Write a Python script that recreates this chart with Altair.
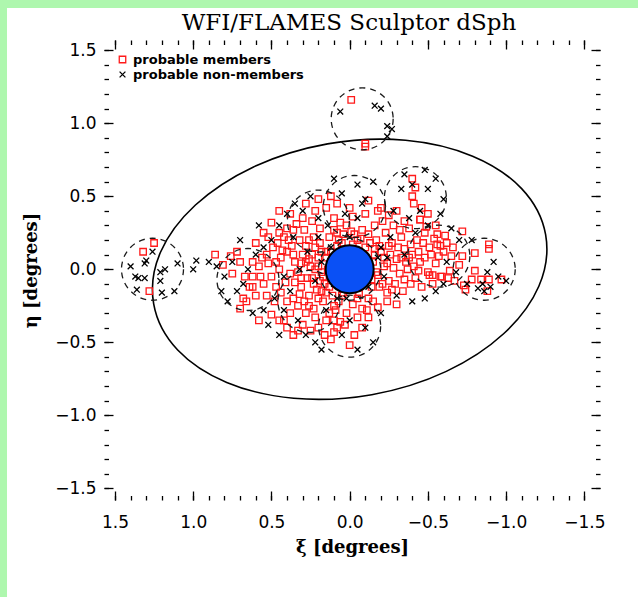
import altair as alt
import pandas as pd

# ---------------- data (degrees) ----------------
title_text = "WFI/FLAMES Sculptor dSph"
far_left_members = [(1.25, 0.18), (1.32, 0.12), (1.28, -0.15)]
top_field_members = [(-0.01, 1.16), (-0.10, 0.86), (-0.10, 0.84)]
core_west_members = [
    (0.12, 0.05), (0.15, 0.12), (0.18, -0.02), (0.20, 0.08), (0.22, 0.15), (0.25, 0.02),
    (0.27, -0.06), (0.30, 0.10), (0.32, 0.20), (0.35, 0.05), (0.38, -0.03), (0.40, 0.12),
    (0.42, 0.22), (0.45, 0.00), (0.16, -0.10), (0.21, -0.14), (0.26, -0.18), (0.31, -0.12),
    (0.36, -0.20), (0.41, -0.09), (0.13, 0.22), (0.19, 0.28), (0.24, 0.33), (0.29, 0.27),
    (0.34, 0.31), (0.11, -0.18), (0.17, -0.22), (0.23, -0.27), (0.28, -0.30), (0.33, -0.25),
    (0.14, 0.00), (0.24, 0.10), (0.28, 0.05), (0.33, -0.02), (0.37, 0.16), (0.19, 0.18),
    (0.44, 0.08), (0.47, -0.12), (0.49, 0.15), (0.52, 0.04),
]
core_east_members = [
    (-0.15, 0.05), (-0.18, -0.04), (-0.20, 0.12), (-0.22, 0.02), (-0.25, -0.08), (-0.27, 0.18),
    (-0.30, 0.07), (-0.32, -0.03), (-0.35, 0.14), (-0.37, 0.00), (-0.40, 0.10), (-0.42, -0.06),
    (-0.45, 0.05), (-0.47, 0.18), (-0.50, -0.02), (-0.17, 0.20), (-0.23, 0.25), (-0.28, 0.30),
    (-0.33, 0.22), (-0.38, 0.28), (-0.19, -0.12), (-0.24, -0.16), (-0.29, -0.10), (-0.34, -0.15),
    (-0.16, 0.14), (-0.26, 0.10), (-0.31, 0.15), (-0.36, 0.05), (-0.41, 0.02), (-0.43, 0.20),
    (-0.52, 0.10), (-0.55, 0.04), (-0.58, -0.05), (-0.60, 0.12), (-0.21, 0.33), (-0.14, -0.07),
    (-0.39, -0.10), (-0.46, -0.12), (-0.53, -0.10), (-0.56, 0.17),
]
inner_ring_members = [
    (0.15, 0.08), (0.17, -0.05), (0.13, -0.12), (0.08, 0.16), (-0.02, 0.17), (-0.10, 0.15),
    (-0.16, 0.10), (-0.17, -0.02), (-0.14, -0.12), (-0.06, -0.17), (0.04, -0.16), (0.12, -0.06),
    (0.22, 0.00), (0.23, -0.10), (-0.22, 0.08), (-0.21, -0.10), (0.26, 0.20), (-0.25, 0.16),
    (0.10, 0.27), (-0.12, 0.24), (0.09, -0.28), (-0.18, -0.26), (0.40, 0.28), (0.46, 0.18),
    (-0.48, 0.25), (-0.53, -0.04), (0.50, -0.05), (0.56, 0.08), (0.38, -0.30), (-0.30, -0.24),
]
dense_core_members = [
    (0.20, 0.02), (0.26, 0.07), (0.31, 0.04), (0.36, 0.10), (0.39, 0.20), (0.43, 0.13),
    (0.18, 0.12), (0.23, 0.22), (0.28, 0.16), (0.31, -0.06), (0.35, -0.09), (0.29, -0.22),
    (0.24, -0.06), (0.19, -0.08), (0.15, -0.16), (0.20, -0.20), (0.26, -0.25), (0.32, -0.17),
    (0.44, -0.16), (0.40, -0.22), (0.53, -0.18), (0.57, -0.05), (0.62, 0.05), (0.47, 0.05),
    (0.12, 0.12), (0.07, 0.20), (-0.01, 0.26), (0.04, 0.24), (-0.07, 0.21), (-0.13, 0.18),
    (-0.19, 0.16), (-0.24, 0.04), (-0.28, 0.01), (-0.27, -0.14), (-0.33, 0.08), (-0.38, 0.08),
    (-0.44, 0.12), (-0.39, 0.17), (-0.35, -0.07), (-0.44, -0.01), (-0.48, 0.08), (-0.51, 0.15),
    (-0.54, 0.21), (-0.62, 0.18), (-0.66, 0.15), (-0.63, -0.06), (-0.70, 0.03), (-0.57, 0.09),
    (-0.24, -0.22), (-0.12, -0.20), (-0.02, -0.24), (0.07, -0.22), (0.13, -0.30), (0.03, -0.38),
    (-0.05, -0.33), (0.10, -0.43), (-0.11, -0.28), (0.22, -0.33), (0.16, -0.45), (0.33, -0.42),
    (0.42, -0.35), (0.20, 0.48), (0.12, 0.50), (-0.02, 0.36), (-0.16, 0.30), (-0.25, 0.37),
    (-0.32, 0.27), (-0.18, 0.40), (0.30, 0.35), (0.36, 0.27), (0.45, 0.25), (0.52, 0.22),
    (0.62, -0.12), (0.75, -0.03), (0.70, 0.05), (0.68, -0.20), (0.58, -0.35), (0.10, -0.35),
]
north_members = [
    (0.05, 0.18), (-0.05, 0.20), (0.08, 0.25), (-0.08, 0.27), (0.02, 0.30), (0.10, 0.35),
    (-0.10, 0.38), (0.00, 0.42), (-0.03, 0.24), (0.06, 0.32), (0.15, 0.42), (0.08, 0.45),
    (-0.12, 0.47), (-0.20, 0.42), (0.22, 0.40), (0.28, 0.45),
]
south_members = [
    (0.05, -0.18), (-0.05, -0.20), (0.10, -0.25), (-0.08, -0.27), (0.02, -0.30), (0.15, -0.35),
    (-0.12, -0.33), (0.08, -0.40), (-0.03, -0.45), (0.12, -0.48), (0.00, -0.52), (0.20, -0.40),
    (0.18, -0.15), (-0.15, -0.22), (0.06, -0.36), (-0.08, -0.40),
]
northeast_members = [
    (-0.40, 0.62), (-0.42, 0.56), (-0.40, 0.50), (-0.41, 0.45), (-0.45, 0.34), (-0.35, 0.33),
    (-0.50, 0.38), (-0.55, 0.30), (-0.30, 0.40),
]
east_members = [
    (-0.46, 0.42), (-0.45, 0.34), (-0.49, 0.29), (-0.56, 0.24), (-0.61, 0.23), (-0.72, 0.26),
    (-0.58, 0.16), (-0.65, 0.09), (-0.72, 0.09), (-0.80, 0.11), (-0.89, 0.14), (-0.89, 0.17),
    (-0.80, -0.01), (-0.84, -0.07), (-0.78, -0.07), (-0.73, -0.11), (-0.89, -0.07), (-0.97, -0.07),
    (-0.88, -0.15), (-0.74, -0.14), (-0.67, -0.08), (-0.59, -0.05), (-0.51, -0.04), (-0.64, -0.01),
]
west_members = [
    (0.86, 0.10), (0.81, 0.03), (0.67, -0.05), (0.62, -0.05), (0.64, -0.12), (0.70, -0.27),
    (0.50, -0.31), (0.66, -0.22), (0.72, 0.12), (0.76, 0.09), (0.58, 0.02), (0.55, -0.10),
    (0.60, -0.18), (0.53, 0.10), (0.48, -0.22), (0.45, -0.35), (0.40, -0.40), (0.36, -0.45),
    (0.30, -0.38), (0.25, -0.42), (0.55, 0.25), (0.50, 0.32), (0.45, 0.40), (0.38, 0.38),
    (0.60, 0.18),
]

far_left_nonmembers = [
    (1.40, 0.02), (1.26, 0.12), (1.30, 0.06), (1.31, 0.04), (1.37, -0.05), (1.35, -0.06),
    (1.31, -0.06), (1.21, -0.08), (1.10, 0.04), (1.21, -0.02), (1.12, -0.15), (1.36, -0.14),
    (1.20, -0.16), (1.18, 0.00),
]
top_field_nonmembers = [(0.06, 1.08), (-0.16, 1.12), (-0.20, 1.10), (-0.24, 0.98), (-0.27, 0.96), (-0.24, 0.91)]
central_nonmembers = [
    (0.30, 0.40), (0.35, 0.45), (0.40, 0.38), (0.25, 0.50), (0.45, 0.30), (0.20, 0.35),
    (0.50, 0.20), (0.55, 0.15), (0.60, 0.10), (0.70, 0.20), (0.75, 0.05), (0.80, -0.05),
    (0.85, 0.02), (0.90, 0.05), (0.68, -0.10), (0.72, -0.15), (0.62, -0.30), (0.55, -0.28),
    (0.48, -0.20), (0.42, -0.28), (0.38, -0.15), (0.33, -0.35), (0.28, -0.45), (0.22, -0.50),
    (0.15, -0.28), (0.10, -0.10), (0.08, -0.20), (0.05, 0.10), (-0.05, 0.12), (0.12, 0.15),
    (0.18, 0.05), (0.22, -0.08), (0.27, 0.12), (0.32, 0.00), (0.36, 0.22), (0.42, -0.05),
    (-0.10, 0.08), (-0.12, -0.12), (-0.18, 0.08), (-0.22, -0.05), (-0.26, 0.22), (-0.30, -0.18),
    (-0.35, 0.10), (-0.38, 0.35), (-0.42, 0.25), (-0.45, 0.40), (-0.50, 0.30), (-0.33, 0.55),
    (-0.40, 0.58), (-0.50, 0.55), (-0.55, 0.62), (-0.48, 0.68), (-0.35, 0.65), (-0.60, 0.48),
    (-0.58, 0.38), (-0.65, 0.28), (-0.70, 0.20), (-0.62, 0.05), (-0.68, -0.02), (-0.75, -0.10),
    (-0.85, -0.10), (-0.90, -0.12), (-0.95, -0.05), (-1.00, -0.08), (-0.88, -0.02), (-0.92, 0.05),
    (-0.55, -0.15), (-0.48, -0.20), (-0.40, -0.22), (-0.20, -0.30), (-0.10, -0.40), (0.00, -0.35),
    (0.05, -0.45), (-0.15, -0.50), (0.02, -0.20), (-0.05, 0.35), (0.03, 0.38), (-0.10, 0.48),
    (0.05, 0.52), (-0.15, 0.60), (0.10, 0.62), (-0.05, 0.58), (-0.08, 0.45), (0.14, 0.30),
    (0.00, 0.22), (-0.20, 0.15), (0.20, 0.22), (0.58, 0.30), (0.65, 0.00), (0.78, -0.22),
    (0.82, -0.15), (0.52, -0.38), (0.45, -0.45), (0.18, -0.55), (-0.05, -0.55), (0.98, 0.06),
    (1.00, 0.00), (-0.28, 0.40), (-0.24, 0.08), (-0.60, -0.10), (-0.78, 0.20), (-0.82, -0.13),
    (-0.86, -0.15),
]

# FLAMES field centres (degrees)
field_xi = [-0.08, 1.26, 0.65, 0.20, -0.03, -0.42, -0.57, -0.86, 0.00, 0.26, 0.00]
field_eta = [1.03, 0.00, -0.07, 0.33, 0.43, 0.49, 0.09, 0.00, -0.39, -0.22, 0.00]

major_ticks = [-1.5, -1.0, -0.5, 0.0, 0.5, 1.0, 1.5]
minor_ticks = [-1.5, -1.4, -1.3, -1.2, -1.1, -1.0, -0.9, -0.8, -0.7, -0.6, -0.5, -0.4, -0.3,
               -0.2, -0.1, 0.0, 0.1, 0.2, 0.3, 0.4, 0.5, 0.6, 0.7, 0.8, 0.9, 1.0, 1.1, 1.2,
               1.3, 1.4, 1.5]

group_members = "probable members"
group_non = "probable non-members"

# ---------------- tables ----------------
member_sets = [far_left_members, top_field_members, core_west_members, core_east_members,
               inner_ring_members, dense_core_members, north_members, south_members,
               northeast_members, east_members, west_members]
non_sets = [far_left_nonmembers, top_field_nonmembers, central_nonmembers]
rows = []
for s in member_sets:
    for xi, eta in s:
        rows.append({"xi": xi, "eta": eta, "group": group_members})
for s in non_sets:
    for xi, eta in s:
        rows.append({"xi": xi, "eta": eta, "group": group_non})
stars = pd.DataFrame(rows)
fields = pd.DataFrame({"xi": field_xi, "eta": field_eta})
centre = pd.DataFrame({"xi": [0.0], "eta": [0.0]})
title_df = pd.DataFrame({"label": [title_text]})

W, H = 496, 460
PAD_L, PAD_T = 104, 40
xscale = alt.Scale(domain=[-1.60, 1.57], reverse=True, nice=False, zero=False)
yscale = alt.Scale(domain=[-1.58, 1.57], nice=False, zero=False)

TICK_FONT = "DejaVu Sans"
SERIF = "DejaVu Serif"
MAJ, MIN = 9, 4.5


def ax(orient, values, size, labels=False, title=None, **kw):
    args = dict(orient=orient, values=values, tickSize=size, offset=-size, domain=False,
                grid=False, labels=labels, ticks=True, tickColor="black", tickWidth=1.3,
                zindex=2)
    if labels:
        args.update(labelFont=TICK_FONT, labelFontSize=17, labelColor="black",
                    format=".1f", labelFlush=False, labelOverlap=False)
    if title is not None:
        args.update(title=title, titleFont=SERIF, titleFontWeight="bold",
                    titleFontSize=18, titleColor="black")
    else:
        args.update(title=None)
    args.update(kw)
    return alt.Axis(**args)


no_axis_x = alt.X("xi:Q", scale=xscale, axis=None)
no_axis_y = alt.Y("eta:Q", scale=yscale, axis=None)

# white page region (the reference has a light green edge at left and top)
page = alt.Chart(centre).mark_rect(color="white").encode(
    x=alt.value(7 - PAD_L), x2=alt.value(638 - PAD_L),
    y=alt.value(8 - PAD_T), y2=alt.value(597 - PAD_T))

title_mark = alt.Chart(title_df).mark_text(
    font=SERIF, fontSize=23, color="black", align="center", baseline="alphabetic"
).encode(text="label:N", x=alt.value(W / 2 - 3), y=alt.value(-10))

ellipse_path = "M -1 0 A 1 0.64 0 1 0 1 0 A 1 0.64 0 1 0 -1 0 Z"
tidal = alt.Chart(centre).mark_point(
    shape=ellipse_path, size=(2 * 199) ** 2, filled=False, stroke="black",
    strokeWidth=1.6, opacity=1, angle=350).encode(x=no_axis_x, y=no_axis_y)

xshape = "M -1 -1 L 1 1 M -1 1 L 1 -1"
points = alt.Chart(stars).mark_point(filled=False, opacity=1, strokeWidth=1.3).encode(
    x=no_axis_x, y=no_axis_y,
    color=alt.Color("group:N", scale=alt.Scale(domain=[group_members, group_non],
                                                range=["#ff1a1a", "black"]),
                    legend=alt.Legend(title=None, orient="none", legendX=12, legendY=13,
                                      labelFont=TICK_FONT, labelFontWeight="bold",
                                      labelFontSize=13, labelColor="black", labelOffset=4,
                                      labelLimit=0, rowPadding=1, padding=0,
                                      symbolStrokeWidth=1.3)),
    shape=alt.Shape("group:N", scale=alt.Scale(domain=[group_members, group_non],
                                                range=["square", xshape]), legend=None),
    size=alt.Size("group:N", scale=alt.Scale(domain=[group_members, group_non],
                                              range=[42, 34]), legend=None),
)

field_circles = alt.Chart(fields).mark_point(
    shape="circle", size=4 * 31 ** 2, filled=False, stroke="#1a1a1a", strokeWidth=1.3,
    strokeDash=[6, 5], opacity=1).encode(x=no_axis_x, y=no_axis_y)

core = alt.Chart(centre).mark_point(
    shape="circle", size=4 * 24 ** 2, filled=True, fill="#0a50f5", stroke="black",
    strokeWidth=2, opacity=1).encode(x=no_axis_x, y=no_axis_y)


def axis_layer(xaxis, yaxis):
    return alt.Chart(centre).mark_point(opacity=0).encode(
        x=alt.X("xi:Q", scale=xscale, axis=xaxis),
        y=alt.Y("eta:Q", scale=yscale, axis=yaxis))


a1 = axis_layer(ax("bottom", major_ticks, MAJ, labels=True, title="ξ [degrees]",
                   labelPadding=14, titlePadding=8),
                ax("left", major_ticks, MAJ, labels=True, title="η [degrees]",
                   labelPadding=8, titlePadding=14))
a2 = axis_layer(ax("bottom", minor_ticks, MIN), ax("left", minor_ticks, MIN))
a3 = axis_layer(ax("top", major_ticks, MAJ), ax("right", major_ticks, MAJ))
a4 = axis_layer(ax("top", minor_ticks, MIN), ax("right", minor_ticks, MIN))

chart = alt.layer(page, title_mark, tidal, points, field_circles, core, a1, a2, a3, a4).resolve_axis(
    x="independent", y="independent"
).properties(
    width=W, height=H,
    autosize=alt.AutoSizeParams(type="none"),
    padding={"left": PAD_L, "top": PAD_T, "right": 638 - PAD_L - W, "bottom": 597 - PAD_T - H},
    background="#aef7ae",
).configure_view(stroke="black", strokeWidth=1.6)

chart.save("out.html", embed_options={"renderer": "svg", "actions": False})
